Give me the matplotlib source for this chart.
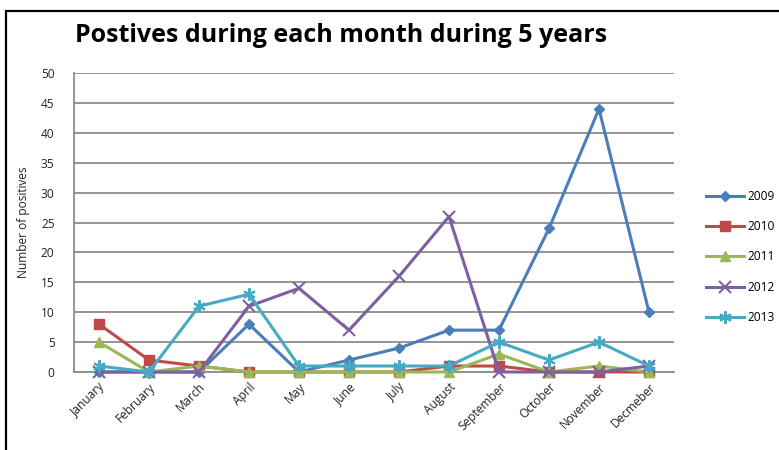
import matplotlib
matplotlib.use("Agg")
import matplotlib.pyplot as plt
from matplotlib.patches import Rectangle

months = ["January", "February", "March", "April", "May", "June", "July",
          "August", "September", "October", "November", "Decmeber"]
years = ["2009", "2010", "2011", "2012", "2013"]
v2009 = [0, 0, 0, 8, 0, 2, 4, 7, 7, 24, 44, 10]
v2010 = [8, 2, 1, 0, 0, 0, 0, 1, 1, 0, 0, 0]
v2011 = [5, 0, 1, 0, 0, 0, 0, 0, 3, 0, 1, 0]
v2012 = [0, 0, 0, 11, 14, 7, 16, 26, 0, 0, 0, 1]
v2013 = [1, 0, 11, 13, 1, 1, 1, 1, 5, 2, 5, 1]
yticks = list(range(0, 51, 5))

series = [v2009, v2010, v2011, v2012, v2013]
colors = ["#4A7EBB", "#BE4B48", "#98B954", "#7D60A0", "#46AAC5"]
markers = ["D", "s", "^", "x", (6, 2, 0)]
msizes = [5.5, 7, 7, 8, 9]

plt.rcParams["font.family"] = ["Open Sans", "DejaVu Sans"]

W, H = 779, 450
fig = plt.figure(figsize=(W / 100, H / 100), dpi=100)
fig.patch.set_facecolor("white")

# outer chart frame
fig.add_artist(Rectangle((5.5 / W, -0.1), 1.2, 1 - 10.5 / H + 0.1,
                         transform=fig.transFigure, fill=False,
                         edgecolor="black", linewidth=1.6))

left, right, top, bottom = 74, 674, 73, 372
ax = fig.add_axes([left / W, 1 - bottom / H, (right - left) / W, (bottom - top) / H])

x = list(range(len(months)))
for vals, c, m, ms, yr in zip(series, colors, markers, msizes, years):
    mew = 1.5 if m in ("x",) or isinstance(m, tuple) else 1
    ax.plot(x, vals, color=c, linewidth=2.2, marker=m, markersize=ms,
            markeredgecolor=c, markerfacecolor=c, markeredgewidth=mew,
            label=yr, clip_on=False, zorder=3)

ax.set_xlim(-0.5, len(months) - 0.5)
ax.set_ylim(0, 50)
ax.set_yticks(yticks)
ax.set_xticks(x)
ax.set_xticklabels(months, rotation=45, ha="right", rotation_mode="anchor",
                   fontsize=8.6, color="#222222")
ax.tick_params(axis="y", labelsize=8.6, labelcolor="#222222", length=0, pad=14)
ax.tick_params(axis="x", length=0, pad=6)
ax.grid(axis="y", color="#8C8C8C", linewidth=1.3)
ax.set_axisbelow(True)
for s in ["top", "right"]:
    ax.spines[s].set_visible(False)
for s in ["left", "bottom"]:
    ax.spines[s].set_color("#8C8C8C")
    ax.spines[s].set_linewidth(1.3)
ax.set_ylabel("Number of positives", fontsize=8.6, color="#222222", labelpad=8)

fig.text(75 / W, 1 - 36 / H, "Postives during each month during 5 years",
         fontsize=18, fontweight="bold", va="center", ha="left", color="black")

leg = ax.legend(loc="center left", bbox_to_anchor=(695 / W, 1 - 257 / H),
                bbox_transform=fig.transFigure, frameon=False, fontsize=8.6,
                labelspacing=1.45, handlelength=3.2, handletextpad=0.3)

fig.savefig("out.png", dpi=100)
